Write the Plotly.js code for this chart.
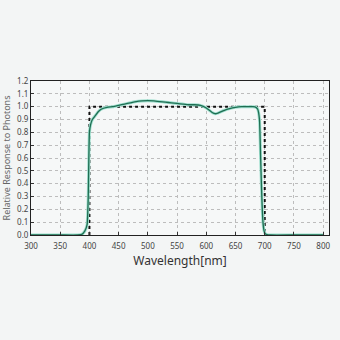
<!DOCTYPE html>
<html>
<head>
<meta charset="utf-8">
<script src="https://cdn.plot.ly/plotly-3.0.1.min.js"></script>
<style>html,body{margin:0;padding:0;background:#f3f5f5;}#chart{width:340px;height:340px;}</style>
</head>
<body>
<div id="chart"></div>
<script>
const wavelength = [300,350,380,387,392,396,398,399,400,402,405,410,415,420,430,440,450,460,470,480,490,500,510,520,530,540,550,560,570,580,590,600,610,615,620,630,640,650,660,670,680,685,688,691,693,695,697,699,701,704,710,750,800];
const response   = [0,0,0,0.005,0.03,0.08,0.3,0.6,0.8,0.86,0.9,0.93,0.96,0.98,0.995,1.0,1.01,1.02,1.03,1.04,1.045,1.047,1.045,1.04,1.035,1.03,1.025,1.02,1.015,1.015,1.01,0.99,0.955,0.945,0.95,0.97,0.985,0.995,1.0,1.0,1.0,0.995,0.98,0.9,0.6,0.3,0.1,0.03,0.01,0.003,0,0,0];
const idealX = [400,400,700,700];
const idealY = [0,1,1,0];
const xTicks = [300,350,400,450,500,550,600,650,700,750,800];
const yTicks = [0,0.1,0.2,0.3,0.4,0.5,0.6,0.7,0.8,0.9,1.0,1.1,1.2];

const traces = [
  {x: idealX, y: idealY, mode:'lines', line:{color:'#111', width:2, dash:'dot'}, hoverinfo:'skip'},
  {x: wavelength, y: response, mode:'lines', line:{color:'#9fe0cf', width:3, shape:'spline', smoothing:0.4}, hoverinfo:'skip'},
  {x: wavelength, y: response, mode:'lines', line:{color:'#1e6e52', width:1.3, shape:'spline', smoothing:0.4}}
];
const axisCommon = {
  showline:true, linecolor:'#222', linewidth:1, mirror:true,
  ticks:'inside', ticklen:3, tickcolor:'#333',
  showgrid:true, gridcolor:'#bdbdbd', griddash:'dot', gridwidth:1,
  zeroline:false,
  tickfont:{family:'Noto Sans', size:8, color:'#444'}
};
const layout = {
  width:340, height:340,
  margin:{l:31, r:11, t:81, b:105},
  paper_bgcolor:'#f3f5f5', plot_bgcolor:'#f6f8f8',
  showlegend:false,
  xaxis: Object.assign({}, axisCommon, {
    range:[300,810], tickvals:xTicks, ticktext:xTicks.map(String),
    ticklabelstandoff:3,
    title:{text:'Wavelength[nm]', font:{family:'Noto Sans', size:12, color:'#333'}, standoff:7}
  }),
  yaxis: Object.assign({}, axisCommon, {
    range:[0,1.2], tickvals:yTicks, ticktext:yTicks.map(v=>v.toFixed(1)),
    title:{text:'Relative Response to Photons', font:{family:'Noto Sans', size:9, color:'#666'}, standoff:4}
  })
};
Plotly.newPlot('chart', traces, layout, {staticPlot:true, displayModeBar:false});
</script>
</body>
</html>
